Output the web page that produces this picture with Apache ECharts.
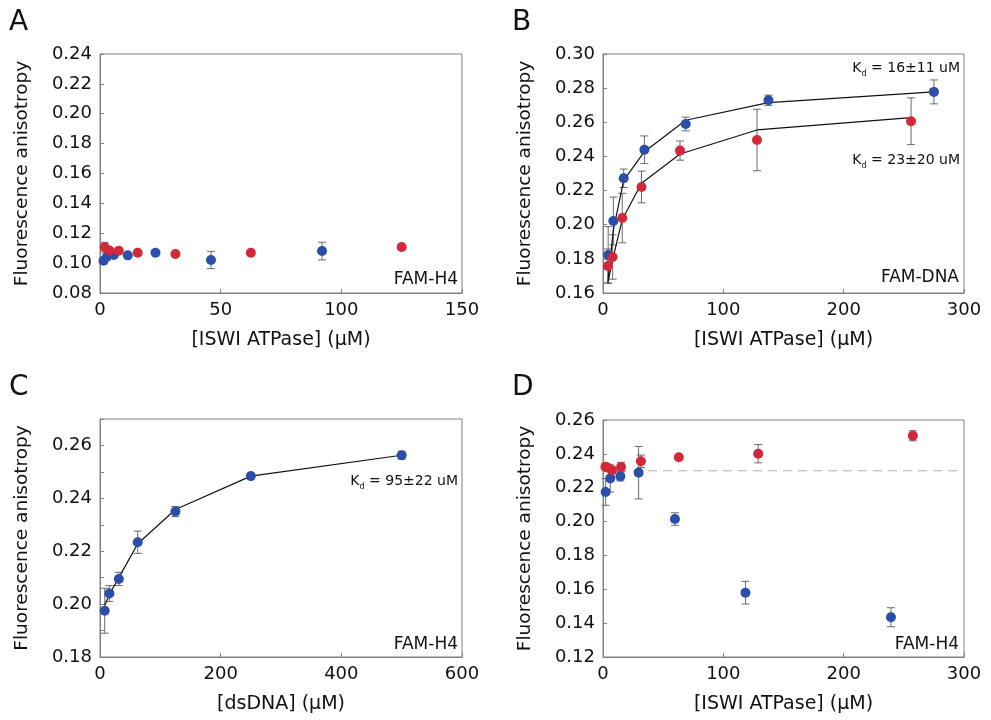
<!DOCTYPE html>
<html><head><meta charset="utf-8">
<script src="https://cdn.jsdelivr.net/npm/echarts@6/dist/echarts.min.js"></script>
<style>html,body{margin:0;padding:0;background:#fff}#c{width:991px;height:720px}</style>
</head><body><div id="c"></div>
<script>
// ---------- DATA ----------
// Panel A (FAM-H4)
const aBlueX = [1.44, 2.88, 5.75, 11.5, 23, 46, 92];
const aBlueY = [0.1016, 0.1043, 0.1054, 0.1052, 0.1070, 0.1021, 0.1081];
const aBlueErr = [0.0015, 0.002, 0.0015, 0.001, 0.0012, 0.0058, 0.0059];
const aRedX = [1.95, 3.9, 7.8, 15.6, 31.25, 62.5, 125];
const aRedY = [0.1106, 0.1085, 0.1083, 0.1070, 0.1061, 0.1070, 0.1108];
const aRedErr = [0.0033, 0.0015, 0.001, 0.001, 0.0008, 0.0008, 0.001];
// Panel B (FAM-DNA)
const bBlueX = [4.3, 8.6, 17.2, 34.4, 68.75, 137.5, 275];
const bBlueY = [0.1823, 0.2022, 0.2272, 0.2439, 0.2590, 0.2729, 0.2778];
const bBlueErr = [0.0166, 0.014, 0.0054, 0.0081, 0.004, 0.003, 0.007];
const bBlueFit = [0.168, 0.197, 0.226, 0.2428, 0.2612, 0.2715, 0.2778];
const bRedX = [4, 8, 16, 32, 64, 128, 256];
const bRedY = [0.1758, 0.1811, 0.2039, 0.2221, 0.2434, 0.2496, 0.2606];
const bRedErr = [0.010, 0.013, 0.0145, 0.0093, 0.0056, 0.018, 0.0137];
const bRedFit = [0.166, 0.1795, 0.203, 0.2243, 0.2414, 0.2555, 0.2627];
// Panel C (FAM-H4 + dsDNA)
const cX = [7.8, 15.6, 31.25, 62.5, 125, 250, 500];
const cY = [0.1975, 0.2040, 0.2095, 0.2234, 0.2350, 0.2484, 0.2563];
const cErr = [0.0085, 0.003, 0.0025, 0.0042, 0.0019, 0.0005, 0.0015];
const cFit = [0.1995, 0.2037, 0.2100, 0.2228, 0.2358, 0.2484, 0.2563];
// Panel D (FAM-H4)
const dBlueX = [2.2, 6, 14.4, 29.6, 59.8, 118.4, 239.3];
const dBlueY = [0.2175, 0.2255, 0.2267, 0.2289, 0.2015, 0.1580, 0.1435];
const dBlueErr = [0.0079, 0.008, 0.0027, 0.0155, 0.0037, 0.0067, 0.0056];
const dRedX = [2, 4, 7.5, 15, 31.5, 63, 129, 257.5];
const dRedY = [0.2324, 0.2318, 0.2303, 0.2322, 0.2356, 0.2380, 0.2401, 0.2507];
const dRedErr = [0.002, 0.002, 0.002, 0.0028, 0.0037, 0.001, 0.0054, 0.003];
const dRef = 0.23;

// ---------- STYLE ----------
const FONT = 'DejaVu Sans';
const BLUE = '#2b4ea8', RED = '#d2283a', GRAY = '#808080', ERR = '#6a6a6a';

const zip = (xs, ys) => xs.map((x, i) => [x, ys[i]]);
const zipErr = (xs, ys, es) => xs.map((x, i) => [x, ys[i] - es[i], ys[i] + es[i]]);

function errSeries(idx, xs, ys, es) {
  return {
    type: 'custom', xAxisIndex: idx, yAxisIndex: idx, silent: true, z: 1,
    data: zipErr(xs, ys, es), encode: { x: 0, y: [1, 2] },
    renderItem: function (params, api) {
      const lo = api.coord([api.value(0), api.value(1)]);
      const hi = api.coord([api.value(0), api.value(2)]);
      const w = 4, st = { stroke: ERR, lineWidth: 1 };
      return { type: 'group', children: [
        { type: 'line', shape: { x1: lo[0], y1: lo[1], x2: hi[0], y2: hi[1] }, style: st },
        { type: 'line', shape: { x1: lo[0] - w, y1: lo[1], x2: lo[0] + w, y2: lo[1] }, style: st },
        { type: 'line', shape: { x1: hi[0] - w, y1: hi[1], x2: hi[0] + w, y2: hi[1] }, style: st }
      ] };
    }
  };
}
function scat(idx, xs, ys, color) {
  return { type: 'scatter', xAxisIndex: idx, yAxisIndex: idx, data: zip(xs, ys), symbolSize: 10,
    itemStyle: { color: color, opacity: 1 }, z: 3, silent: true };
}
function fit(idx, xs, ys) {
  return { type: 'line', xAxisIndex: idx, yAxisIndex: idx, data: zip(xs, ys), symbol: 'none',
    lineStyle: { color: '#111', width: 1.2 }, z: 2, silent: true };
}

const grids = [
  { left: 100, top: 54, width: 362, height: 239 },
  { left: 603, top: 54, width: 361, height: 239 },
  { left: 100, top: 419, width: 362, height: 238 },
  { left: 603, top: 420, width: 361, height: 237 }
].map(g => Object.assign(g, { show: true, borderColor: GRAY, borderWidth: 1, backgroundColor: 'transparent' }));

const xName = ['[ISWI ATPase] (µM)', '[ISWI ATPase] (µM)', '[dsDNA] (µM)', '[ISWI ATPase] (µM)'];
const xMax = [150, 300, 600, 300], xInt = [50, 100, 200, 100];
const yMin = [0.08, 0.16, 0.18, 0.12], yMax = [0.24, 0.30, 0.27, 0.26], yInt = [0.02, 0.02, 0.01, 0.02];

const xAxes = [0, 1, 2, 3].map(i => ({
  type: 'value', gridIndex: i, min: 0, max: xMax[i], interval: xInt[i],
  name: xName[i], nameLocation: 'middle', nameGap: 38,
  nameTextStyle: { fontFamily: FONT, fontSize: 19, color: '#111' },
  axisLine: { show: true, lineStyle: { color: GRAY, width: 1 } },
  axisTick: { show: true, inside: true, length: 4, lineStyle: { color: GRAY } },
  axisLabel: { fontFamily: FONT, fontSize: 18, color: '#111', margin: 8 },
  splitLine: { show: false }
}));
const yAxes = [0, 1, 2, 3].map(i => ({
  type: 'value', gridIndex: i, min: yMin[i], max: yMax[i], interval: yInt[i],
  name: 'Fluorescence anisotropy', nameLocation: 'middle', nameGap: 68, nameRotate: 90,
  nameTextStyle: { fontFamily: FONT, fontSize: 18.5, color: '#111' },
  axisLine: { show: true, lineStyle: { color: GRAY, width: 1 } },
  axisTick: { show: true, inside: true, length: 4, lineStyle: { color: GRAY } },
  axisLabel: { fontFamily: FONT, fontSize: 18, color: '#111', margin: 8,
    formatter: v => (i === 2 && Math.round(v * 100) % 2 !== 0) ? '' : v.toFixed(2) },
  splitLine: { show: false }
}));

function txt(x, y, text, size, align) {
  return { type: 'text', x: x, y: y, silent: true,
    style: { text: text, fill: '#111', font: size + 'px "' + FONT + '"', align: align || 'left', verticalAlign: 'middle',
      textAlign: align || 'left', textVerticalAlign: 'middle' } };
}
function kd(x, y, rest) {
  return { type: 'text', x: x, y: y, silent: true,
    style: { text: '{k|K}{s|d}{k| = ' + rest + '}', align: 'right', verticalAlign: 'middle',
      textAlign: 'right', textVerticalAlign: 'middle',
      rich: { k: { fontFamily: FONT, fontSize: 14, lineHeight: 20, fill: '#111', color: '#111' },
              s: { fontFamily: FONT, fontSize: 8, lineHeight: 8, verticalAlign: 'bottom', fill: '#111', color: '#111' } } } };
}

const option = {
  animation: false,
  grid: grids, xAxis: xAxes, yAxis: yAxes,
  series: [
    errSeries(0, aBlueX, aBlueY, aBlueErr), errSeries(0, aRedX, aRedY, aRedErr),
    scat(0, aBlueX, aBlueY, BLUE), scat(0, aRedX, aRedY, RED),
    errSeries(1, bBlueX, bBlueY, bBlueErr), errSeries(1, bRedX, bRedY, bRedErr),
    fit(1, bBlueX, bBlueFit), fit(1, bRedX, bRedFit),
    scat(1, bBlueX, bBlueY, BLUE), scat(1, bRedX, bRedY, RED),
    errSeries(2, cX, cY, cErr), fit(2, cX, cFit), scat(2, cX, cY, BLUE),
    errSeries(3, dBlueX, dBlueY, dBlueErr), errSeries(3, dRedX, dRedY, dRedErr),
    { type: 'line', xAxisIndex: 3, yAxisIndex: 3, data: [[0, dRef], [300, dRef]], symbol: 'none', silent: true, z: 0,
      lineStyle: { color: '#b0b0b0', width: 1, type: [9, 6] } },
    scat(3, dBlueX, dBlueY, BLUE), scat(3, dRedX, dRedY, RED)
  ],
  graphic: [
    txt(9, 23, 'A', 28), txt(512, 23, 'B', 28), txt(9, 388, 'C', 28), txt(512, 388, 'D', 28),
    txt(458, 280, 'FAM-H4', 17, 'right'), txt(959, 278, 'FAM-DNA', 17, 'right'),
    txt(458, 645, 'FAM-H4', 17, 'right'), txt(959, 645, 'FAM-H4', 17, 'right'),
    kd(960, 68, '16±11 uM'), kd(960, 160, '23±20 uM'), kd(458, 481, '95±22 uM')
  ]
};
echarts.init(document.getElementById('c'), null, { renderer: 'canvas' }).setOption(option);
</script></body></html>
